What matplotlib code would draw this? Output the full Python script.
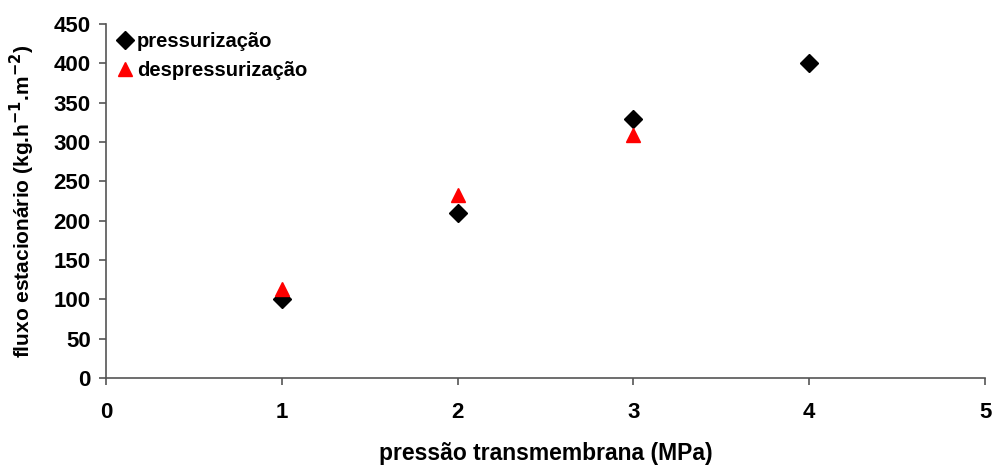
import numpy as np
import matplotlib.pyplot as plt

plt.rcParams['font.family'] = ['Liberation Sans', 'DejaVu Sans']
plt.rcParams['font.weight'] = 'bold'

x_press = [1, 2, 3, 4]
y_press = [100, 210, 329, 400]
x_depress = [1, 2, 3]
y_depress = [113, 232, 309]

fig = plt.figure(figsize=(9.95, 4.68), dpi=100)
ax = fig.add_axes([0.1065, 0.1923, 0.8835, 0.7564])

ax.plot(x_press, y_press, 'D', color='black', markersize=9, linestyle='none', label='pressurização')
ax.plot(x_depress, y_depress, '^', color='red', markersize=10.5, linestyle='none', label='despressurização')

ax.set_xlim(0, 5)
ax.set_ylim(0, 450)
ax.set_xticks(range(0, 6))
ax.set_yticks(range(0, 451, 50))
ax.spines['top'].set_visible(False)
ax.spines['right'].set_visible(False)
for s in ('left', 'bottom'):
    ax.spines[s].set_color('#555555')
    ax.spines[s].set_linewidth(1.2)
ax.tick_params(axis='both', colors='#555555', labelcolor='black', labelsize=16, length=5, width=1.2)
ax.tick_params(axis='y', pad=6)
ax.tick_params(axis='x', pad=12)

ax.set_xlabel('pressão transmembrana (MPa)', fontsize=16.5, fontweight='bold', labelpad=14)
ax.set_ylabel('fluxo estacionário (kg.h$^{\\mathbf{-1}}$.m$^{\\mathbf{-2}}$)', fontsize=15, fontweight='bold', labelpad=12)

ax.legend(loc='upper left', frameon=False, fontsize=14.5, handletextpad=0.05, handlelength=1.1,
          borderaxespad=0.0, labelspacing=0.5, bbox_to_anchor=(0.0, 1.0))

fig.savefig('out.png', dpi=100)
